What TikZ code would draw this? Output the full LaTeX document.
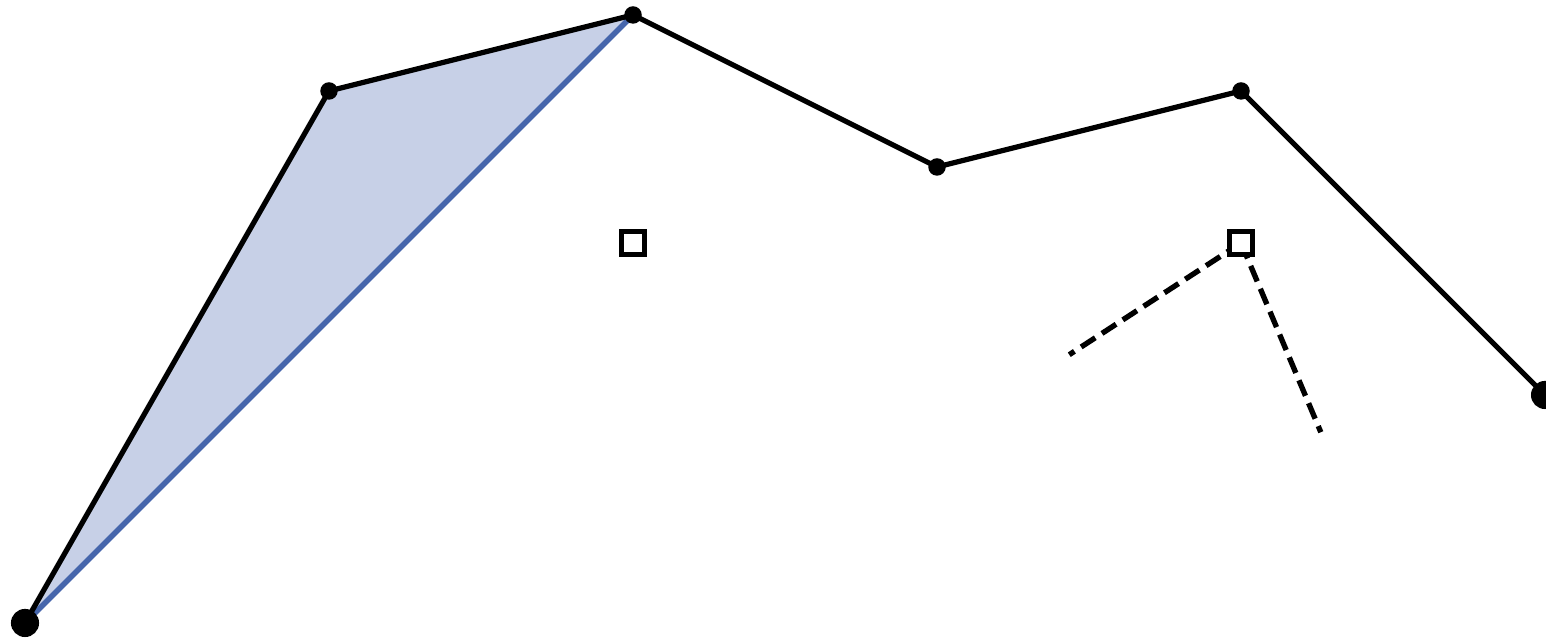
\documentclass[tikz,border=0pt]{standalone}
\definecolor{fillblue}{RGB}{199,208,231}
\definecolor{edgeblue}{RGB}{70,102,172}
\tikzset{
  pline/.style={line width=1.95pt, black, line join=round},
  bline/.style={line width=2.1pt, edgeblue},
  sdot/.style={circle, fill=black, inner sep=0pt, minimum size=0.23cm},
  bdot/.style={circle, fill=black, inner sep=0pt, minimum size=0.37cm},
  sq/.style={draw=black, line width=2pt, fill=white, inner sep=0pt, minimum size=0.31cm},
  dline/.style={line width=2pt, black, dash pattern=on 6.3pt off 3pt}
}
\begin{document}
\begin{tikzpicture}
\useasboundingbox (-0.329,-0.197) rectangle (20.013,8.197);
\coordinate (p0) at (0,0);
\coordinate (p1) at (4,7);
\coordinate (p2) at (8,8);
\coordinate (p3) at (12,6);
\coordinate (p4) at (16,7);
\coordinate (p5) at (20,3);
\coordinate (e1) at (13.74,3.53);
\coordinate (e2) at (17.05,2.51);
\fill[fillblue] (p0) -- (p1) -- (p2) -- cycle;
\draw[bline] (p0) -- (p2);
\draw[pline] (p0) -- (p1) -- (p2) -- (p3) -- (p4) -- (p5);
\node[sq] (s1) at (8,5) {};
\draw[dline] (16,5) -- (e1);
\draw[dline] (16,5) -- (e2);
\node[sq] (s2) at (16,5) {};
\node[bdot] (d0) at (p0) {};
\node[sdot] (d1) at (p1) {};
\node[sdot] (d2) at (p2) {};
\node[sdot] (d3) at (p3) {};
\node[sdot] (d4) at (p4) {};
\node[bdot] (d5) at (p5) {};
\end{tikzpicture}
\end{document}
